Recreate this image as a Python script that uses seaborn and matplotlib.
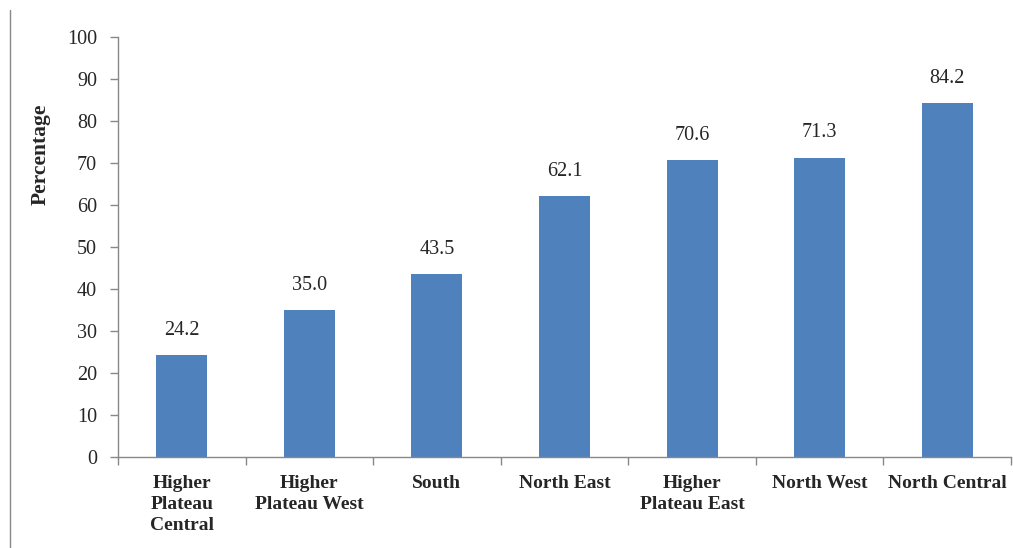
import matplotlib
matplotlib.use("Agg")
import matplotlib.pyplot as plt
import seaborn as sns
import numpy as np
from matplotlib.lines import Line2D

regions = ["Higher\nPlateau\nCentral", "Higher\nPlateau West", "South", "North East",
           "Higher\nPlateau East", "North West", "North Central"]
values = [24.2, 35.0, 43.5, 62.1, 70.6, 71.3, 84.2]
yticks = [0, 10, 20, 30, 40, 50, 60, 70, 80, 90, 100]

sns.set_style("white")
plt.rcParams["font.family"] = ["Liberation Serif", "DejaVu Serif"]

fig = plt.figure(figsize=(10.13, 5.48), dpi=100)
ax = fig.add_axes([0.1165, 0.166, 0.8815, 0.7665])

sns.barplot(x=list(range(len(values))), y=values, color="#4F81BD", width=0.4,
            saturation=1, ax=ax, edgecolor="none")

ax.set_xlim(-0.5, len(values) - 0.5)
ax.set_ylim(0, 100)
ax.set_yticks(yticks)
ax.set_yticklabels([str(t) for t in yticks], fontsize=14.5)
ax.set_xticks(range(len(values)))
ax.set_xticklabels(regions, fontsize=14, fontweight="bold", linespacing=1.32,
                   va="top")
ax.set_xticks(np.arange(-0.5, len(values), 1.0), minor=True)
ax.tick_params(axis="x", which="major", length=0, pad=13)
ax.tick_params(axis="x", which="minor", length=6, width=1, color="#888888",
               direction="out", bottom=True)
ax.tick_params(axis="y", length=6, width=1, color="#888888", direction="out",
               left=True, pad=9)
for side in ["top", "right"]:
    ax.spines[side].set_visible(False)
for side in ["left", "bottom"]:
    ax.spines[side].set_color("#888888")
    ax.spines[side].set_linewidth(1)

ax.set_xlabel("")
ax.set_ylabel("Percentage", fontsize=15.5, fontweight="bold")
ax.yaxis.set_label_coords(-0.075, 0.72)

for i, v in enumerate(values):
    ax.annotate(f"{v:.1f}", xy=(i, v), xytext=(0, 18), textcoords="offset points",
                ha="center", va="center", fontsize=14.5)

# thin frame line along the left edge
fig.add_artist(Line2D([10 / 1013, 10 / 1013], [0, 1 - 10 / 548],
                      transform=fig.transFigure, color="#888888", linewidth=1))

fig.savefig("out.png", dpi=100, facecolor="white")
